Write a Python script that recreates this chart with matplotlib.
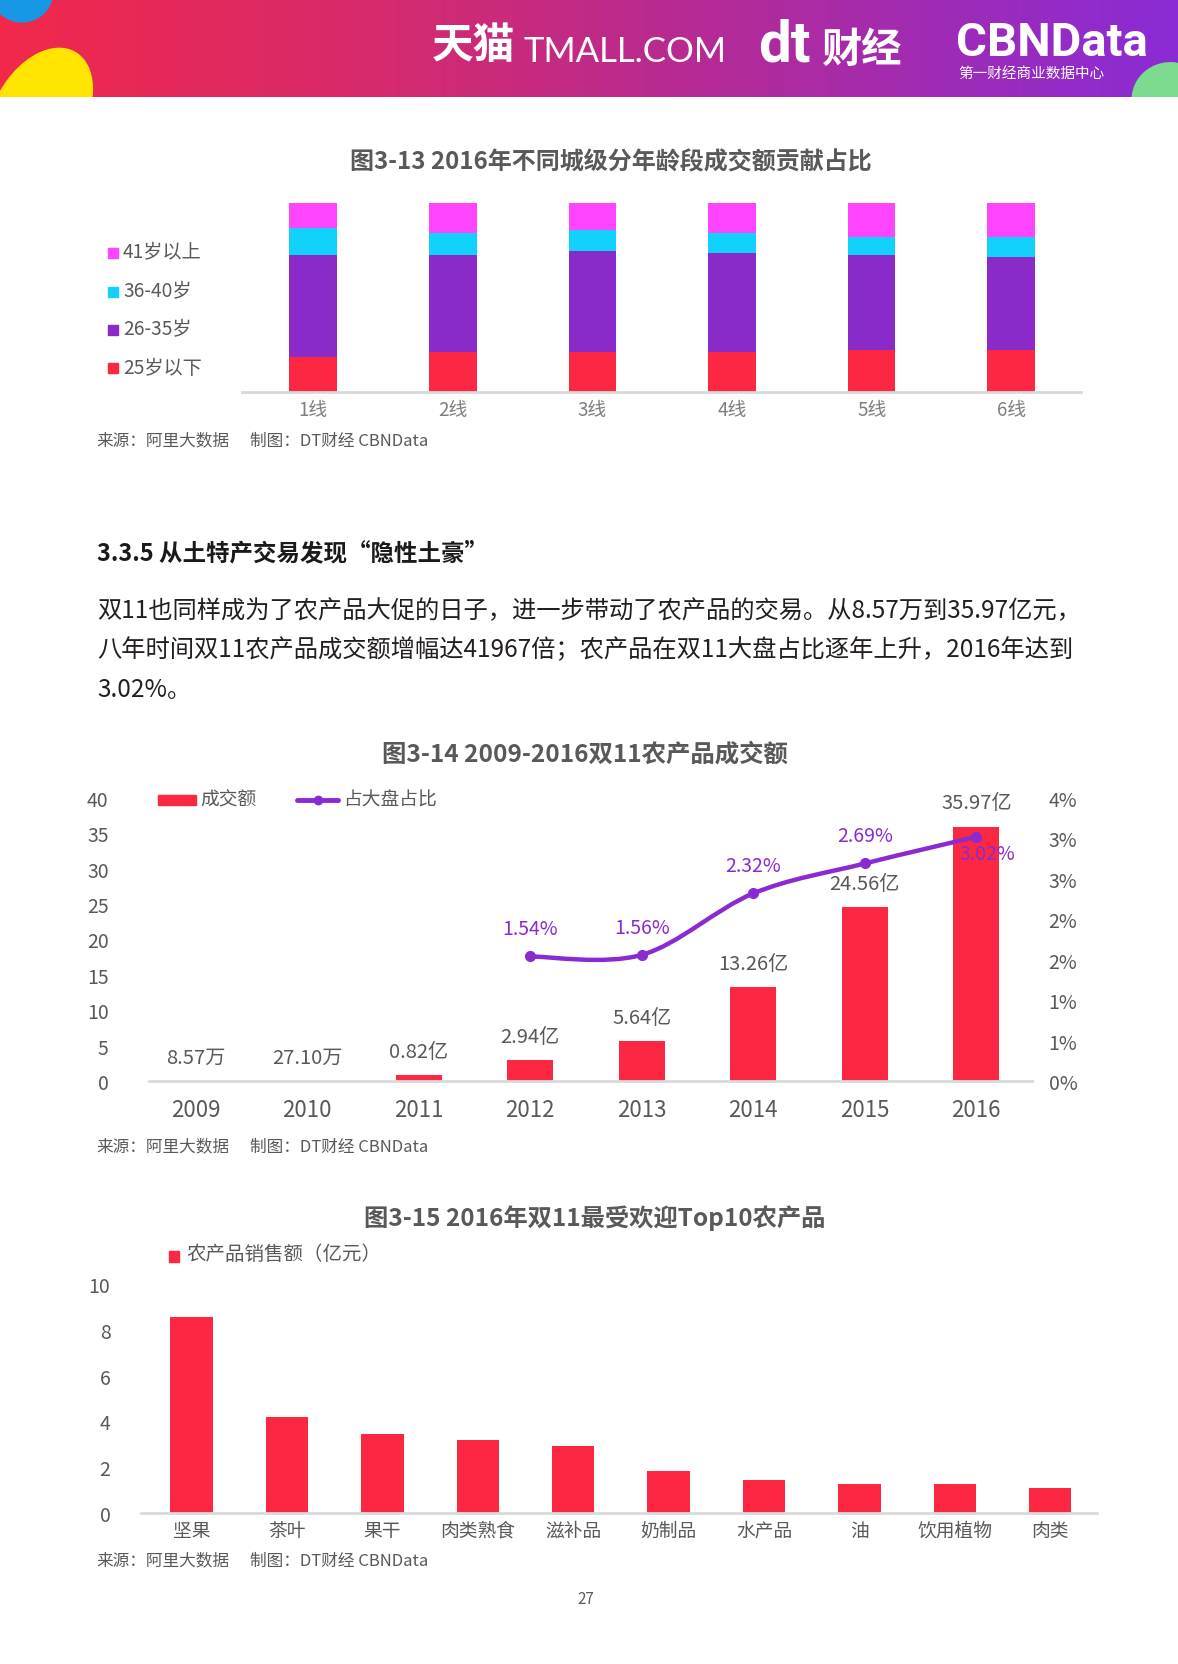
import numpy as np
import matplotlib
matplotlib.use("Agg")
import matplotlib.pyplot as plt
from matplotlib.colors import LinearSegmentedColormap
from matplotlib.patches import Ellipse, Rectangle, PathPatch
from matplotlib.path import Path
from matplotlib.lines import Line2D
from matplotlib.ticker import FuncFormatter

plt.rcParams['font.family'] = ['Noto Sans CJK SC', 'DejaVu Sans']

# ---- 图3-13 data (share of GMV, %) ----
tiers = ['1线', '2线', '3线', '4线', '5线', '6线']
age_groups = ['25岁以下', '26-35岁', '36-40岁', '41岁以上']
share_u25 = [18.7, 21.2, 21.2, 21.2, 22.2, 22.2]
share_26_35 = [53.7, 51.2, 53.3, 52.3, 50.2, 49.0]
share_36_40 = [14.2, 11.9, 11.0, 10.8, 9.8, 11.0]
share_41p = [13.4, 15.7, 14.5, 15.7, 17.8, 17.8]
age_colors = ['#fb2743', '#8a2bc9', '#12d2fc', '#ff44ff']

# ---- 图3-14 data ----
years = ['2009', '2010', '2011', '2012', '2013', '2014', '2015', '2016']
sales = [0.000857, 0.00271, 0.82, 2.94, 5.64, 13.26, 24.56, 35.97]   # 亿元
sales_labels = ['8.57万', '27.10万', '0.82亿', '2.94亿', '5.64亿', '13.26亿', '24.56亿', '35.97亿']
share_years = ['2012', '2013', '2014', '2015', '2016']
share_pct = [1.54, 1.56, 2.32, 2.69, 3.02]

# ---- 图3-15 data ----
products = ['坚果', '茶叶', '果干', '肉类熟食', '滋补品', '奶制品', '水产品', '油', '饮用植物', '肉类']
product_sales = [8.58, 4.20, 3.46, 3.20, 2.92, 1.82, 1.46, 1.27, 1.27, 1.09]

RED = '#fb2743'
PURPLE = '#8a2bd2'
GRAY = '#595959'
LIGHTGRAY = '#d9d9d9'

W, H = 1178, 1665
fig = plt.figure(figsize=(W / 100, H / 100), dpi=100)


def px_axes(l, t, r, b, **kw):
    return fig.add_axes([l / W, 1 - b / H, (r - l) / W, (b - t) / H], **kw)


# page overlay in pixel coordinates
page = px_axes(0, 0, W, H)
page.set_xlim(0, W)
page.set_ylim(H, 0)
page.axis('off')

# header band (own axes so the blobs get clipped to it)
hdr = px_axes(0, 0, W, 98)
grad = np.linspace(0, 1, 256).reshape(1, -1)
hdr_cmap = LinearSegmentedColormap.from_list('hdr', ['#f2284b', '#d42a6e', '#ad2ba0', '#8a2bd6'])
hdr.imshow(grad, extent=(0, W, 98, 0), aspect='auto', cmap=hdr_cmap, zorder=0)
hdr.set_xlim(0, W)
hdr.set_ylim(98, 0)
hdr.axis('off')
for (cx, cy, w, h, ang, col) in [(22, -8, 62, 62, 0, '#1798e4'),
                                 (40, 114, 90, 140, 30, '#ffe400'),
                                 (1172, 102, 80, 76, 20, '#7ddb8f')]:
    hdr.add_patch(Ellipse((cx, cy), w, h, angle=ang, color=col, zorder=1))

hdr.text(432, 46, '天猫', color='white', fontsize=30, fontweight='bold', va='center', ha='left')
hdr.text(524, 52, 'TMALL.COM', color='white', fontsize=25, family='Lato', va='center', ha='left')
hdr.text(758, 46, 'dt', color='white', fontsize=42, fontweight='bold', family='Roboto', va='center', ha='left')
hdr.text(822, 50, '财经', color='white', fontsize=29, fontweight='bold', va='center', ha='left')
hdr.text(956, 43, 'CBNData', color='white', fontsize=34, fontweight='bold', family='Roboto', va='center', ha='left')
hdr.text(958, 74, '第一财经商业数据中心', color='white', fontsize=10.5, va='center', ha='left')

# titles / text
page.text(611, 162, '图3-13 2016年不同城级分年龄段成交额贡献占比', color=GRAY, fontsize=17.3,
          fontweight='bold', ha='center', va='center')
page.text(97, 553, '3.3.5 从土特产交易发现“隐性土豪”', color='#1a1a1a', fontsize=16.9,
          fontweight='bold', ha='left', va='center')
para = ['双11也同样成为了农产品大促的日子，进一步带动了农产品的交易。从8.57万到35.97亿元，',
        '八年时间双11农产品成交额增幅达41967倍；农产品在双11大盘占比逐年上升，2016年达到',
        '3.02%。']
for i, line in enumerate(para):
    page.text(97, 611 + i * 39.5, line, color='#231f20', fontsize=17.5, ha='left', va='center')
page.text(585, 755, '图3-14 2009-2016双11农产品成交额', color=GRAY, fontsize=17.6,
          fontweight='bold', ha='center', va='center')
page.text(595, 1218, '图3-15 2016年双11最受欢迎Top10农产品', color=GRAY, fontsize=17.5,
          fontweight='bold', ha='center', va='center')
for y in [441, 1147, 1561]:
    page.text(96, y, '来源：阿里大数据', color=GRAY, fontsize=12, ha='left', va='center')
    page.text(250, y, '制图：DT财经 CBNData', color=GRAY, fontsize=12, ha='left', va='center')
page.text(586, 1600, '27', color=GRAY, fontsize=11, ha='center', va='center')

# legend of 图3-13
for (label, col, y) in [('41岁以上', age_colors[3], 252.7), ('36-40岁', age_colors[2], 291.7),
                        ('26-35岁', age_colors[1], 330), ('25岁以下', age_colors[0], 368.3)]:
    page.add_patch(Rectangle((108, y - 4), 10, 10, color=col))
    page.text(123, y, label, color=GRAY, fontsize=13.8, ha='left', va='center')

# legend of 图3-14
page.add_patch(Rectangle((158, 796), 38, 10, color=RED))
page.text(200, 800, '成交额', color=GRAY, fontsize=13.5, ha='left', va='center')
page.add_line(Line2D([297, 338], [801, 801], color=PURPLE, lw=3.5, solid_capstyle='round'))
page.plot([318], [801], 'o', color=PURPLE, ms=6)
page.text(343, 800, '占大盘占比', color=GRAY, fontsize=13.5, ha='left', va='center')

# legend of 图3-15
page.add_patch(Rectangle((169, 1252), 10, 11, color=RED))
page.text(186, 1255, '农产品销售额（亿元）', color=GRAY, fontsize=14, ha='left', va='center')


def clean(ax):
    for s in ['top', 'right', 'left']:
        ax.spines[s].set_visible(False)
    ax.spines['bottom'].set_color(LIGHTGRAY)
    ax.spines['bottom'].set_linewidth(2)
    ax.patch.set_alpha(0)


# ---- 图3-13 stacked bars ----
ax1 = px_axes(242, 204, 1081, 393)
clean(ax1)
x1 = np.arange(len(tiers))
bottom = np.zeros(len(tiers))
for vals, col in zip([share_u25, share_26_35, share_36_40, share_41p], age_colors):
    v = np.array(vals) / 100
    ax1.bar(x1, v, 0.34, bottom=bottom, color=col, edgecolor='none')
    bottom += v
ax1.set_xlim(-0.51, 5.5)
ax1.set_ylim(0, 1)
ax1.set_yticks([])
ax1.set_xticks(x1, tiers)
ax1.tick_params(axis='x', length=0, pad=5, labelsize=13.5, labelcolor='#7f7f7f')

# ---- 图3-14 bars + line ----
ax2 = px_axes(149, 799, 1032, 1082)
clean(ax2)
x2 = np.arange(len(years))
ax2.bar(x2, sales, 0.41, color=RED, edgecolor='none')
ax2.set_xlim(-0.42, 7.5)
ax2.set_ylim(0, 40)
ax2.set_yticks(np.arange(0, 41, 5))
ax2.set_xticks(x2, years)
ax2.tick_params(axis='y', length=0, pad=29, labelsize=14, labelcolor=GRAY)
ax2.tick_params(axis='x', length=0, pad=12, labelsize=16, labelcolor=GRAY)
for xi, v, lab in zip(x2, sales, sales_labels):
    ax2.annotate(lab, (xi, v), xytext=(0, 17), textcoords='offset points',
                 ha='center', va='center', fontsize=14.5, color=GRAY)

ax2r = ax2.twinx()
for s in ['top', 'right', 'left', 'bottom']:
    ax2r.spines[s].set_visible(False)
ax2r.set_ylim(0, 3.5)
ax2r.set_yticks(np.arange(0, 3.51, 0.5))
ax2r.yaxis.set_major_formatter(FuncFormatter(lambda v, p: f'{int(v + 0.5)}%'))
ax2r.tick_params(axis='y', length=0, pad=12, labelsize=14, labelcolor=GRAY)

sx = np.array([years.index(y) for y in share_years], dtype=float)
sy = np.array(share_pct)
# smooth (Catmull-Rom as cubic Bezier) through the share points
pts = np.column_stack([sx, sy])
ext = np.vstack([pts[0], pts, pts[-1]])
verts = [tuple(pts[0])]
codes = [Path.MOVETO]
for i in range(len(pts) - 1):
    p0, p1, p2, p3 = ext[i], ext[i + 1], ext[i + 2], ext[i + 3]
    verts += [tuple(p1 + (p2 - p0) / 6), tuple(p2 - (p3 - p1) / 6), tuple(p2)]
    codes += [Path.CURVE4] * 3
ax2r.add_patch(PathPatch(Path(verts, codes), facecolor='none', edgecolor=PURPLE, lw=3.2,
                         capstyle='round', zorder=3))
ax2r.plot(sx, sy, 'o', color=PURPLE, ms=7, zorder=4)
for i, (xi, v) in enumerate(zip(sx, sy)):
    off = (8, -12) if i == len(sx) - 1 else (0, 20)
    ax2r.annotate(f'{v:.2f}%', (xi, v), xytext=off, textcoords='offset points',
                  ha='center', va='center', fontsize=14, color=PURPLE, zorder=5)

# ---- 图3-15 bars ----
ax3 = px_axes(141, 1285, 1097, 1514)
clean(ax3)
x3 = np.arange(len(products))
ax3.bar(x3, product_sales, 0.445, color=RED, edgecolor='none')
ax3.set_xlim(-0.53, 9.49)
ax3.set_ylim(0, 10)
ax3.set_yticks(np.arange(0, 11, 2))
ax3.set_xticks(x3, products)
ax3.tick_params(axis='y', length=0, pad=22, labelsize=14, labelcolor=GRAY)
ax3.tick_params(axis='x', length=0, pad=5, labelsize=13.5, labelcolor=GRAY)

fig.savefig('out.png', dpi=100)
